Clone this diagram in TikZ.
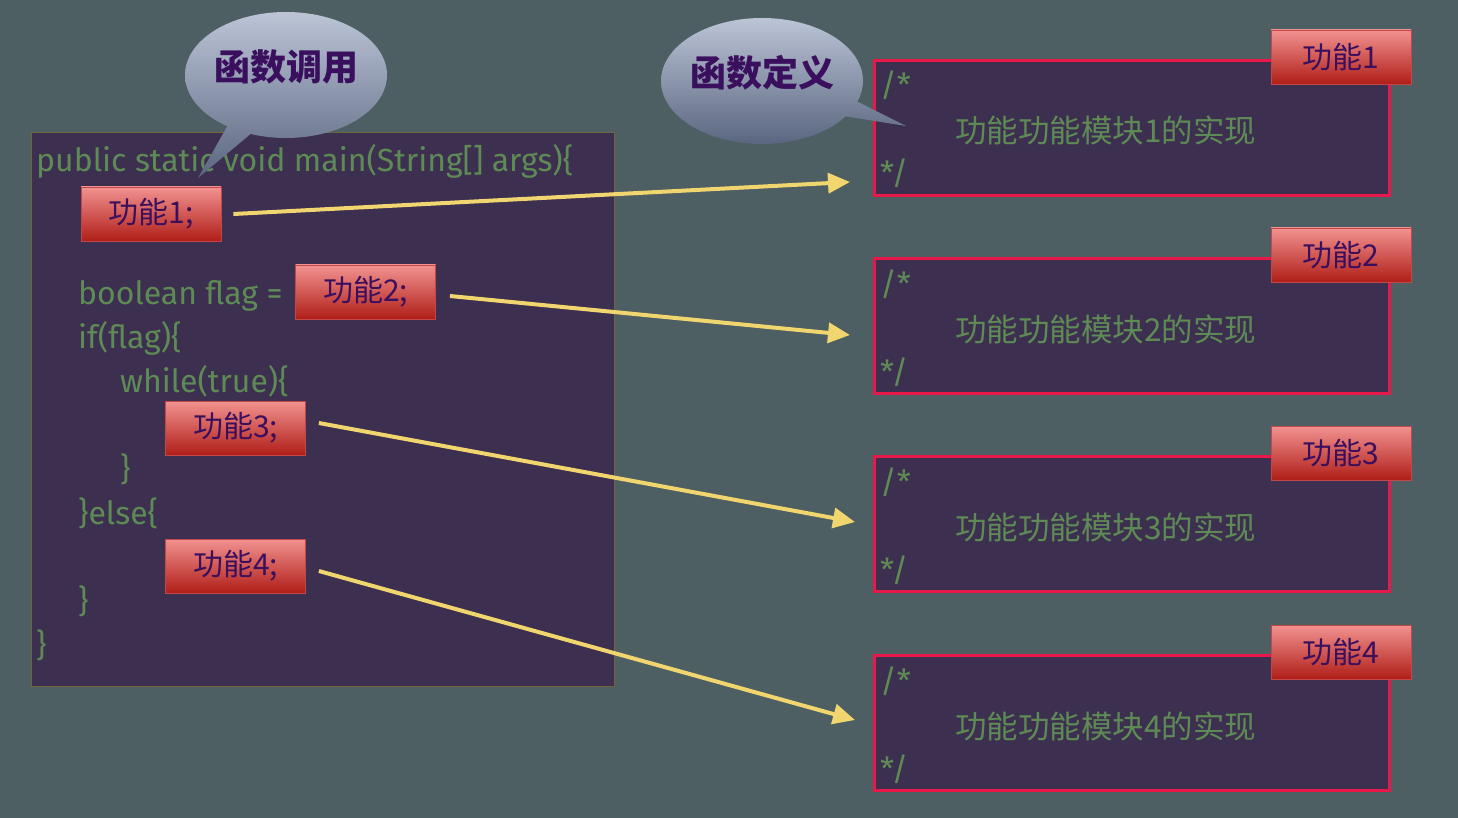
\documentclass[tikz,border=0pt]{standalone}
\usepackage{fontspec}
\setmainfont{Fira Sans}
\newfontfamily\cjk{Noto Sans CJK SC}
\usetikzlibrary{shapes.callouts,arrows.meta}
\definecolor{bg}{HTML}{4D5F62}
\definecolor{codefill}{HTML}{3D2F4F}
\definecolor{codeborder}{HTML}{6E6440}
\definecolor{codegreen}{HTML}{5E8B55}
\definecolor{redtop}{HTML}{F29290}
\definecolor{redbot}{HTML}{B01E18}
\definecolor{redline}{HTML}{C04848}
\definecolor{labtext}{HTML}{3A0F5E}
\definecolor{crimson}{HTML}{E8194A}
\definecolor{arrowyellow}{HTML}{F1D56E}
\definecolor{calltop}{HTML}{BCC4D6}
\definecolor{callbot}{HTML}{5A6680}
\tikzset{
  codetxt/.style={anchor=base west, inner sep=0pt, text=codegreen, font=\fontsize{32}{32}\selectfont},
  desctxt/.style={anchor=base west, inner sep=0pt, text=codegreen, font=\cjk\fontsize{31.5}{31.5}\selectfont},
  redbox/.style={draw=redline, line width=0.8pt, top color=redtop, bottom color=redbot, minimum width=140, minimum height=54, inner sep=0pt, text=labtext, font=\cjk\fontsize{30}{30}\selectfont},
  fbox/.style={draw=crimson, line width=2.6pt, fill=codefill, minimum width=515, minimum height=135, anchor=north west, inner sep=0pt},
  arr/.style={draw=arrowyellow, line width=4pt, -{Triangle[length=22pt, width=20pt]}},
  bubble/.style={ellipse callout, top color=calltop, bottom color=callbot, minimum width=202, minimum height=126, inner sep=0pt},
  bubbletxt/.style={inner sep=0pt, text=labtext, font=\cjk\bfseries\fontsize{36}{36}\selectfont},
}
\begin{document}
\begin{tikzpicture}[x=1pt,y=-1pt]
\fill[bg] (0,0) rectangle (1458,818);
\useasboundingbox (0,0) rectangle (1458,818);

% code box
\node[draw=codeborder, line width=1pt, fill=codefill, minimum width=583, minimum height=554, anchor=north west, inner sep=0pt] (code) at (31,132) {};
\node[codetxt] (l1) at (36,172) {public static void main(String[] args)\{};
\node[codetxt] (l3) at (78,304) {boolean flag =};
\node[codetxt] (l4) at (78,348) {if(flag)\{};
\node[codetxt] (l5) at (120,392) {while(true)\{};
\node[codetxt] (l7) at (120,480) {\}};
\node[codetxt] (l8) at (78,524) {\}else\{};
\node[codetxt] (l10) at (78,612) {\}};
\node[codetxt] (l11) at (36,656) {\}};

% call boxes
\node[redbox] (c1) at (151,214) {功能1;};
\node[redbox] (c2) at (365.5,292) {功能2;};
\node[redbox] (c3) at (235.5,428) {功能3;};
\node[redbox] (c4) at (235.5,566) {功能4;};

% function boxes
\foreach \i/\y in {1/59,2/257,3/455,4/654}{
  \node[fbox] (f\i) at (873,\y) {};
  \node[codetxt] (fo\i) at (880,\y+38) {/*};
  \node[desctxt] (fd\i) at (955,\y+84) {功能功能模块\i 的实现};
  \node[codetxt] (fc\i) at (880,\y+126) {*/};
  \node[redbox] (fl\i) at (1341,\y-2) {功能\i};
}

% callouts
\node[bubble, callout absolute pointer={(198,178)}] (b1) at (286,75) {};
\node[bubbletxt] (b1t) at (286,67) {函数调用};
\node[bubble, callout absolute pointer={(906,126)}] (b2) at (762,81) {};
\node[bubbletxt] (b2t) at (762,73) {函数定义};

% arrow targets
\coordinate (t1) at (850,182);
\coordinate (t2) at (850,335);
\coordinate (t3) at (855,522);
\coordinate (t4) at (855,720);

\draw[arr] ([xshift=12pt]c1.east) -- (t1);
\draw[arr] ([xshift=14pt,yshift=-4pt]c2.east) -- (t2);
\draw[arr] ([xshift=13pt,yshift=5pt]c3.east) -- (t3);
\draw[arr] ([xshift=13pt,yshift=-5pt]c4.east) -- (t4);
\end{tikzpicture}
\end{document}
